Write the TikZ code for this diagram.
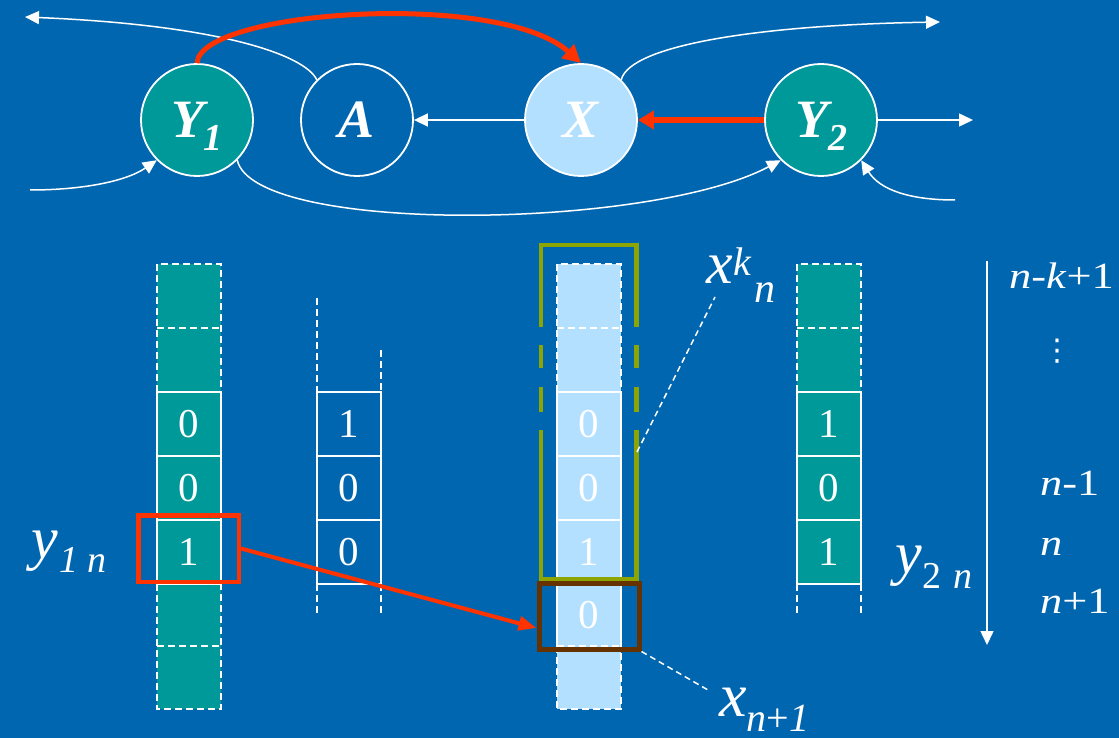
\documentclass[tikz,border=0pt]{standalone}
\usepackage{fontspec}
\setmainfont{Liberation Serif}
\newfontfamily\djv{DejaVu Sans}
\usetikzlibrary{arrows.meta}
\definecolor{bg}{RGB}{0,102,176}
\definecolor{tealc}{RGB}{0,153,153}
\definecolor{lblue}{RGB}{179,224,255}
\definecolor{redc}{RGB}{255,51,0}
\definecolor{olivec}{RGB}{140,165,0}
\definecolor{brownc}{RGB}{102,51,0}
\newcommand{\fsz}[1]{\fontsize{#1}{#1}\selectfont}
\begin{document}
\begin{tikzpicture}[x=1pt,y=-1pt,
  vnode/.style={circle, draw=white, line width=1.8pt, minimum size=112pt, inner sep=0pt, text=white, font=\fsz{54}\bfseries\itshape},
  wire/.style={white, line width=1.5pt},
  wtip/.style={-{Triangle[length=14pt,width=13pt]}},
  slot/.style={minimum width=64pt, minimum height=64pt, inner sep=0pt, text=white, font=\fsz{41}},
  sol/.style={draw=white, line width=1.5pt},
  dsh/.style={draw=white, line width=1.5pt, dash pattern=on 7pt off 4pt},
  lab/.style={text=white, inner sep=0pt, anchor=base west},
]
\fill[bg] (0,0) rectangle (1119,738);
\useasboundingbox (0,0) rectangle (1119,738);

% ---------- top graph ----------
\node[vnode, fill=tealc] (Y1) at (197,120) {Y\raisebox{-13pt}[0pt][0pt]{\fsz{38}1}};
\node[vnode] (A) at (357,120) {A};
\node[vnode, fill=lblue] (X) at (581,120) {X};
\node[vnode, fill=tealc] (Y2) at (821,120) {Y\raisebox{-13pt}[0pt][0pt]{\fsz{38}2}};

\coordinate (tl) at (25,17);
\coordinate (inL) at (30,190);
\coordinate (tr) at (940,22);
\coordinate (outR) at (973,120);
\coordinate (inR) at (955,200);

\draw[wire, wtip] (X.west) -- (A.east);
\draw[wire, wtip] (A.135) .. controls (305,55) and (220,25) .. (tl);
\draw[wire, wtip] (inL) .. controls (80,190) and (125,182) .. (Y1.225);
\draw[wire, wtip] (Y1.315) .. controls (255,235) and (650,230) .. (Y2.225);
\draw[wire, wtip] (X.45) .. controls (630,45) and (760,25) .. (tr);
\draw[wire, wtip] (Y2.east) -- (outR);
\draw[wire, wtip] (inR) .. controls (910,200) and (880,190) .. (Y2.315);

\draw[redc, line width=5pt, -{Triangle[length=18pt,width=18pt]}] (Y1.north) .. controls (200,10) and (500,-10) .. (X.north);
\draw[redc, line width=6pt, -{Triangle[length=16pt,width=18pt]}] (Y2.west) -- (X.east);

% ---------- column y1 ----------
\fill[tealc] (157,264) rectangle (221,709);
\draw[dsh] (157,392) -- (157,264) -- (221,264) -- (221,392);
\draw[dsh] (157,328) -- (221,328);
\draw[dsh] (157,392) -- (221,392);
\draw[sol] (157,392) rectangle (221,584);
\draw[sol] (157,456) -- (221,456) (157,520) -- (221,520);
\draw[dsh] (157,584) -- (157,709) -- (221,709) -- (221,584);
\draw[dsh] (157,646) -- (221,646);
\node[slot] (ya) at (189,424) {0};
\node[slot] (yb) at (189,488) {0};
\node[slot] (yc) at (189,552) {1};

% ---------- column a ----------
\draw[sol] (317,392) rectangle (381,584);
\draw[sol] (317,456) -- (381,456) (317,520) -- (381,520);
\draw[dsh] (317,298) -- (317,392);
\draw[dsh] (381,350) -- (381,392);
\draw[dsh] (317,584) -- (317,614);
\draw[dsh] (381,584) -- (381,614);
\node[slot] (aa) at (349,424) {1};
\node[slot] (ab) at (349,488) {0};
\node[slot] (ac) at (349,552) {0};

% ---------- column x ----------
\fill[lblue] (557,264) rectangle (621,709);
\draw[dsh] (557,392) -- (557,264) -- (621,264) -- (621,392);
\draw[dsh] (557,328) -- (621,328);
\draw[dsh] (557,392) -- (621,392);
\draw[sol] (557,392) rectangle (621,584);
\draw[sol] (557,456) -- (621,456) (557,520) -- (621,520);
\draw[sol] (557,584) -- (557,646) (621,584) -- (621,646);
\draw[dsh] (557,646) -- (621,646);
\draw[dsh] (557,646) -- (557,709) -- (621,709) -- (621,646);
\node[slot] (xa) at (589,424) {0};
\node[slot] (xb) at (589,488) {0};
\node[slot] (xc) at (589,552) {1};
\node[slot] (xd) at (589,615) {0};

% ---------- column y2 ----------
\fill[tealc] (797,264) rectangle (861,584);
\draw[dsh] (797,392) -- (797,264) -- (861,264) -- (861,392);
\draw[dsh] (797,328) -- (861,328);
\draw[dsh] (797,392) -- (861,392);
\draw[sol] (797,392) rectangle (861,584);
\draw[sol] (797,456) -- (861,456) (797,520) -- (861,520);
\draw[dsh] (797,584) -- (797,614);
\draw[dsh] (861,584) -- (861,614);
\node[slot] (za) at (829,424) {1};
\node[slot] (zb) at (829,488) {0};
\node[slot] (zc) at (829,552) {1};

% ---------- olive window ----------
\draw[olivec, line width=4.5pt] (541,327) -- (541,245) -- (636.5,245) -- (636.5,327);
\draw[olivec, line width=4.5pt] (541,345) -- (541,368) (541,387) -- (541,412);
\draw[olivec, line width=4.5pt] (636.5,345) -- (636.5,368) (636.5,387) -- (636.5,412);
\draw[olivec, line width=4.5pt] (541,430) -- (541,579.5) -- (636.5,579.5) -- (636.5,430);
\coordinate (olv) at (637,452);

% ---------- boxes ----------
\node[draw=brownc, line width=5pt, minimum width=100pt, minimum height=66pt, inner sep=0pt] (bbox) at (589,616) {};
\node[draw=redc, line width=4.5pt, minimum width=100.5pt, minimum height=66.5pt, inner sep=0pt] (rbox) at (188.5,548.5) {};
\draw[redc, line width=4pt, -{Triangle[length=18pt,width=14pt]}] (rbox.east) -- ([yshift=-12pt]bbox.west);

% ---------- labels ----------
\node[lab] (xkn) at (706,283) {\fsz{60}\itshape x\kern1pt\raisebox{8pt}{\fsz{40}k}\kern3pt\raisebox{-19pt}{\fsz{42}n}};
\coordinate (xkp) at (715,297);
\draw[dsh, dash pattern=on 6pt off 4pt] (olv) -- (xkp);

\node[lab] (xn1) at (719,716) {\fsz{62}\itshape x\raisebox{-15pt}{\fsz{40}n\textup{+}1}};
\coordinate (xnp) at (708,690);
\draw[dsh, dash pattern=on 6pt off 4pt] (bbox.south east) -- (xnp);

\node[lab] (y1n) at (31,558) {\fsz{60}\itshape y\kern2pt\raisebox{-14pt}{\fsz{38}1\kern9pt n}};
\node[lab] (y2n) at (895,573) {\fsz{60}\itshape y\kern1pt\raisebox{-15pt}{\fsz{38}\textup{2}\kern12pt n}};

\coordinate (vtop) at (987,261);
\coordinate (vbot) at (987,645);
\draw[wire, wtip] (vtop) -- (vbot);

\node[lab] (r1) at (1009,288) {\scalebox{1.2}[1]{\fsz{37}\textit{n}-\textit{k}+1}};
\node[text=white, inner sep=0pt, font=\djv\fsz{30}] (rdots) at (1057,351) {⋮};
\node[lab] (r2) at (1040,495) {\scalebox{1.2}[1]{\fsz{37}\textit{n}-1}};
\node[lab] (r3) at (1040,555) {\scalebox{1.2}[1]{\fsz{37}\textit{n}}};
\node[lab] (r4) at (1040,613) {\scalebox{1.2}[1]{\fsz{37}\textit{n}+1}};
\end{tikzpicture}
\end{document}
